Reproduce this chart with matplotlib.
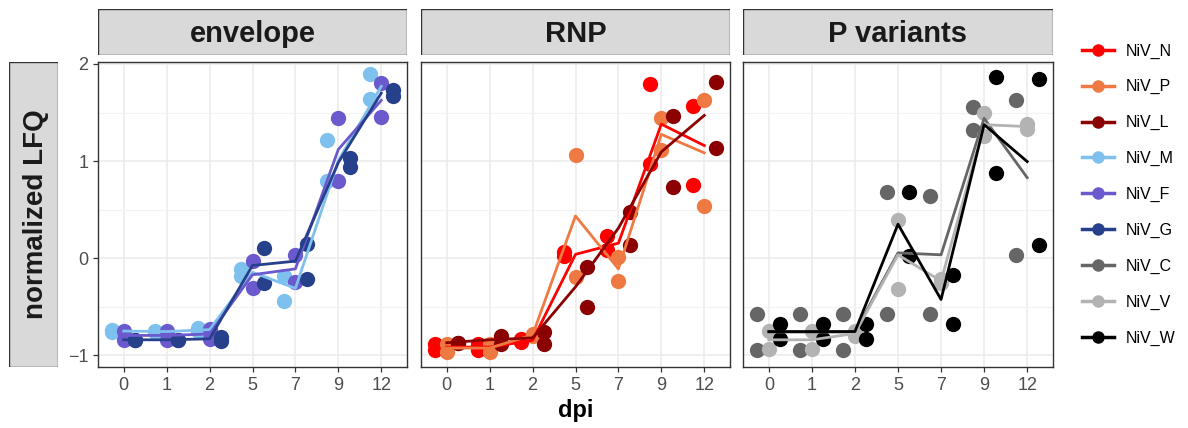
import numpy as np
import matplotlib.pyplot as plt
from matplotlib.lines import Line2D
from matplotlib.patches import Rectangle

plt.rcParams['font.family'] = ['Liberation Sans', 'DejaVu Sans']

# ____data_____________________________________________________________
dpi_labels = ['0', '1', '2', '5', '7', '9', '12']
panels = ['envelope', 'RNP', 'P variants']

# two replicates per protein, one value per dpi
niv_n = [[-0.88, -0.88, -0.86, 0.06, 0.23, 1.79, 1.57],
         [-0.95, -0.95, -0.83, 0.02, 0.08, 0.97, 0.75]]
niv_p = [[-0.88, -0.88, -0.80, 1.06, 0.01, 1.44, 1.63],
         [-0.97, -0.97, -0.78, -0.19, -0.23, 1.11, 0.54]]
niv_l = [[-0.87, -0.80, -0.76, -0.09, 0.48, 1.46, 1.81],
         [-0.87, -0.88, -0.88, -0.50, 0.14, 0.73, 1.13]]
niv_m = [[-0.74, -0.75, -0.72, -0.11, -0.18, 1.22, 1.90],
         [-0.76, -0.76, -0.75, -0.18, -0.44, 0.79, 1.64]]
niv_f = [[-0.75, -0.75, -0.73, -0.03, 0.03, 1.44, 1.80],
         [-0.84, -0.84, -0.83, -0.31, -0.25, 0.80, 1.45]]
niv_g = [[-0.84, -0.84, -0.81, 0.11, 0.15, 1.03, 1.73],
         [-0.84, -0.84, -0.85, -0.26, -0.21, 0.94, 1.67]]
niv_c = [[-0.57, -0.57, -0.57, 0.68, 0.64, 1.56, 1.63],
         [-0.95, -0.95, -0.95, -0.57, -0.57, 1.32, 0.03]]
niv_v = [[-0.75, -0.75, -0.75, 0.39, -0.21, 1.49, 1.38],
         [-0.93, -0.93, -0.80, -0.32, -0.26, 1.26, 1.33]]
niv_w = [[-0.68, -0.68, -0.68, 0.68, -0.17, 1.87, 1.85],
         [-0.83, -0.83, -0.83, 0.02, -0.68, 0.88, 0.14]]

names = ['NiV_N', 'NiV_P', 'NiV_L', 'NiV_M', 'NiV_F', 'NiV_G', 'NiV_C', 'NiV_V', 'NiV_W']
colors = ['#FF0000', '#EE7942', '#8B0000', '#7EC0EE', '#6A5ACD', '#27408B',
          '#666666', '#B3B3B3', '#000000']
values = [niv_n, niv_p, niv_l, niv_m, niv_f, niv_g, niv_c, niv_v, niv_w]
panel_members = [[3, 4, 5], [0, 1, 2], [6, 7, 8]]

# ____figure___________________________________________________________
fig = plt.figure(figsize=(11.88, 4.28), dpi=100)
W, H = 1188, 428

def fr(x0, y0, x1, y1):
    return [x0 / W, 1 - y1 / H, (x1 - x0) / W, (y1 - y0) / H]

panel_x = [(98, 407), (421, 730), (743, 1053)]
x = np.arange(1, len(dpi_labels) + 1)
offsets = [-0.267, 0.0, 0.267]

axes = []
for k, (x0, x1) in enumerate(panel_x):
    ax = fig.add_axes(fr(x0, 62, x1, 367))
    axes.append(ax)
    for j, idx in enumerate(panel_members[k]):
        reps = np.array(values[idx])
        for r in reps:
            ax.plot(x + offsets[j], r, 'o', color=colors[idx], markersize=11,
                    markeredgewidth=0, zorder=3)
    for j, idx in enumerate(panel_members[k]):
        reps = np.array(values[idx])
        ax.plot(x, reps.mean(axis=0), '-', color=colors[idx], linewidth=2.0, zorder=4)

    ax.set_xlim(0.4, 7.6)
    ax.set_ylim(-1.12, 2.02)
    ax.set_xticks(x)
    ax.set_xticklabels(dpi_labels)
    ax.set_yticks([-1, 0, 1, 2])
    ax.set_yticks([-0.5, 0.5, 1.5], minor=True)
    ax.grid(which='major', color='#EBEBEB', linewidth=1.1, zorder=0)
    ax.grid(which='minor', axis='y', color='#F2F2F2', linewidth=0.8, zorder=0)
    ax.set_axisbelow(True)
    for s in ax.spines.values():
        s.set_color('#333333')
        s.set_linewidth(1.0)
    ax.tick_params(axis='both', which='major', colors='#333333', length=3.5, width=0.9,
                   labelsize=13, labelcolor='#4D4D4D')
    ax.tick_params(axis='y', which='minor', length=0)
    if k > 0:
        ax.tick_params(axis='y', left=False, labelleft=False)

    # facet strip
    sax = fig.add_axes(fr(x0, 9, x1, 55))
    sax.add_patch(Rectangle((0, 0), 1, 1, facecolor='#D9D9D9', edgecolor='#333333',
                            linewidth=1.0, transform=sax.transAxes))
    sax.text(0.5, 0.45, panels[k], ha='center', va='center', fontsize=21,
             fontweight='bold', color='#1A1A1A')
    sax.axis('off')

axes[1].set_xlabel('dpi', fontsize=17, fontweight='bold', labelpad=4)

# y label in a strip-like box
lax = fig.add_axes(fr(9, 62, 58, 367))
lax.add_patch(Rectangle((0, 0), 1, 1, facecolor='#D9D9D9', edgecolor='#333333',
                        linewidth=1.0, transform=lax.transAxes))
lax.text(0.55, 0.5, 'normalized LFQ', rotation=90, ha='center', va='center',
         fontsize=20, fontweight='bold', color='#1A1A1A')
lax.axis('off')

# legend
handles = [Line2D([0], [0], color=c, linewidth=2.5, marker='o', markersize=9,
                  markeredgewidth=0) for c in colors]
fig.legend(handles, names, loc='upper left', bbox_to_anchor=(1068 / W, 1 - 29 / H),
           frameon=False, fontsize=11.5, handlelength=2.0, labelspacing=1.3,
           handletextpad=0.7)

fig.savefig('out.png', dpi=100)
